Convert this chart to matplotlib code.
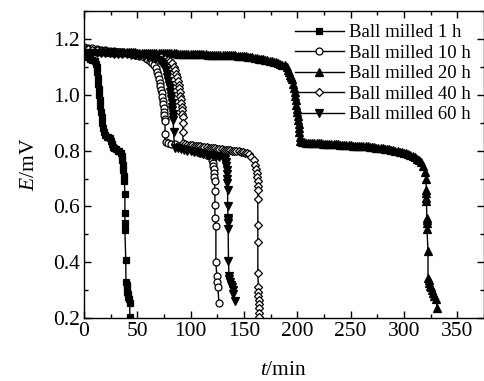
import matplotlib
matplotlib.use('Agg')
import matplotlib.pyplot as plt
from matplotlib.ticker import MultipleLocator

plt.rcParams['font.family'] = 'Liberation Serif'
plt.rcParams['mathtext.fontset'] = 'custom'
plt.rcParams['mathtext.rm'] = 'Liberation Serif'
plt.rcParams['mathtext.it'] = 'Liberation Serif:italic'

# ball milled 1 h
t1 = [0, 3, 6, 8, 10, 11, 12, 12.5, 13, 13.5,
      14, 14.5, 15, 15.5, 16, 16.5, 17, 17.5, 18.5, 20,
      21.5, 23, 24.5, 25.5, 26, 27, 28.5, 30, 31.5, 33,
      34.5, 35.5, 36, 36.5, 37, 37.5, 38, 38.4, 38.4, 38.4,
      38.4, 39.2, 39.4, 40, 40.3, 40.5, 41, 41.5, 42, 43,
      43]
e1 = [1.14, 1.135, 1.13, 1.125, 1.12, 1.11, 1.10, 1.08, 1.06, 1.04,
      1.02, 1.00, 0.98, 0.96, 0.94, 0.92, 0.90, 0.88, 0.865, 0.855,
      0.85, 0.85, 0.845, 0.835, 0.822, 0.812, 0.808, 0.805, 0.80, 0.797,
      0.79, 0.78, 0.765, 0.75, 0.73, 0.71, 0.69, 0.643, 0.578, 0.542,
      0.517, 0.41, 0.33, 0.32, 0.31, 0.295, 0.285, 0.276, 0.27, 0.254,
      0.204]

# ball milled 10 h
t10 = [0, 4, 8, 12, 16, 20, 24, 28, 32, 36,
       40, 44, 48, 52, 56, 59, 62, 64, 66, 67.5,
       68.5, 69.5, 70.3, 71, 71.7, 72.3, 72.9, 73.4, 73.9, 74.3,
       74.7, 75.1, 75.4, 75.7, 76, 76, 76.5, 79, 82, 85,
       88, 91, 94, 97, 100, 103, 106, 109, 112, 115,
       118, 120, 120.5, 121, 121.3, 121.6, 122, 122.3, 122.5, 122.8,
       122.8, 122.8, 123.7, 123.7, 124.6, 124.6, 125.6, 126.5]
e10 = [1.17, 1.168, 1.166, 1.164, 1.162, 1.16, 1.158, 1.156, 1.154, 1.152,
       1.15, 1.147, 1.144, 1.14, 1.135, 1.128, 1.12, 1.115, 1.107, 1.095,
       1.083, 1.07, 1.057, 1.044, 1.031, 1.018, 1.005, 0.992, 0.979, 0.966,
       0.953, 0.94, 0.927, 0.915, 0.906, 0.86, 0.83, 0.828, 0.825, 0.822,
       0.818, 0.815, 0.812, 0.808, 0.805, 0.80, 0.797, 0.793, 0.79, 0.786,
       0.782, 0.775, 0.765, 0.755, 0.745, 0.735, 0.72, 0.704, 0.69, 0.654,
       0.607, 0.56, 0.53, 0.40, 0.35, 0.33, 0.31, 0.255]

# ball milled 20 h
t20 = [0, 2, 4, 6, 8, 10, 12, 14, 16, 18,
       20, 22, 24, 26, 28, 30, 32, 34, 36, 38,
       40, 42, 44, 46, 48, 50, 52, 54, 56, 58,
       60, 62, 64, 66, 68, 70, 72, 74, 76, 78,
       80, 82, 84, 86, 88, 90, 92, 94, 96, 98,
       100, 102, 104, 106, 108, 110, 112, 114, 116, 118,
       120, 122, 124, 126, 128, 130, 132, 134, 136, 138,
       140, 142, 144, 146, 148, 150, 152, 154, 156, 158,
       160, 162, 164, 166, 168, 170, 172, 174, 176, 178,
       180, 182, 184, 186, 188,
       190, 191.5, 192.5, 193.5, 194.3, 195, 196, 196.8, 197.5, 198,
       198.5, 199, 199.5, 200, 200.5, 200.9, 201.2, 201.5, 201.8, 202.1,
       202.4,
       204, 206, 208, 210, 212, 214, 216, 218, 220, 222,
       224, 226, 228, 230, 232, 234, 236, 238, 240, 242,
       244, 246, 248, 250, 252, 254, 256, 258, 260, 262,
       264, 266, 268, 270, 272, 274, 276, 278, 280, 282,
       284, 286, 288, 290, 292, 294, 296, 298, 300, 302,
       304, 306, 308, 310, 312, 314, 316,
       318, 319.5, 320.5, 321, 321, 321, 321, 321.5, 321.5, 321.5,
       321.5, 322.5, 322.5, 323, 323.5, 324.5, 325.5, 326.5, 327.5, 328.5,
       330, 331]
e20 = [1.16, 1.16, 1.16, 1.159, 1.158, 1.158, 1.158, 1.157, 1.157, 1.156,
       1.156, 1.156, 1.155, 1.155, 1.155, 1.154, 1.154, 1.154, 1.153, 1.153,
       1.153, 1.152, 1.152, 1.152, 1.152, 1.151, 1.151, 1.151, 1.15, 1.15,
       1.15, 1.15, 1.15, 1.15, 1.15, 1.15, 1.149, 1.149, 1.149, 1.149,
       1.148, 1.148, 1.148, 1.148, 1.147, 1.147, 1.147, 1.147, 1.146, 1.146,
       1.146, 1.146, 1.145, 1.145, 1.145, 1.145, 1.145, 1.145, 1.144, 1.144,
       1.144, 1.144, 1.143, 1.143, 1.143, 1.143, 1.142, 1.142, 1.142, 1.142,
       1.141, 1.141, 1.14, 1.14, 1.139, 1.139, 1.138, 1.137, 1.136, 1.135,
       1.133, 1.132, 1.13, 1.129, 1.127, 1.126, 1.124, 1.122, 1.12, 1.118,
       1.116, 1.113, 1.11, 1.108, 1.105,
       1.10, 1.09, 1.08, 1.07, 1.063, 1.058, 1.04, 1.025, 1.01, 0.996,
       0.98, 0.965, 0.95, 0.937, 0.924, 0.91, 0.895, 0.88, 0.865, 0.85,
       0.835,
       0.83, 0.83, 0.829, 0.829, 0.828, 0.828, 0.827, 0.827, 0.826, 0.826,
       0.825, 0.825, 0.824, 0.824, 0.823, 0.823, 0.822, 0.822, 0.821, 0.821,
       0.82, 0.82, 0.819, 0.819, 0.818, 0.818, 0.817, 0.817, 0.816, 0.816,
       0.815, 0.815, 0.814, 0.813, 0.812, 0.811, 0.81, 0.809, 0.808, 0.807,
       0.806, 0.805, 0.803, 0.802, 0.80, 0.798, 0.796, 0.794, 0.792, 0.79,
       0.787, 0.784, 0.78, 0.776, 0.771, 0.765, 0.758,
       0.745, 0.725, 0.70, 0.66, 0.65, 0.63, 0.62, 0.56, 0.55, 0.54,
       0.52, 0.44, 0.345, 0.335, 0.325, 0.315, 0.31, 0.30, 0.29, 0.28,
       0.27, 0.236]

# ball milled 40 h
t40 = [0, 4, 8, 12, 16, 20, 24, 28, 32, 36,
       40, 44, 48, 52, 56, 60, 64, 68, 72, 76,
       79, 81, 83, 84.5, 85.5, 86.5, 87.3, 88, 88.7, 89.3,
       89.9, 90.4, 90.9, 91.3, 91.7, 92, 92.3, 92.5, 92.7, 92.8,
       92.9,
       95, 97, 99, 101, 103, 105, 107, 109, 111, 113,
       115, 117, 119, 121, 123, 125, 127, 129, 131, 133,
       135, 137, 139, 141, 143, 145, 147, 149, 151, 153,
       155, 157,
       159, 160.3, 161.3, 162, 162.5, 163, 163, 163, 163, 163,
       163, 163, 163.5, 163.5, 163.5, 163.8, 164, 164, 164, 164]
e40 = [1.165, 1.164, 1.162, 1.16, 1.158, 1.157, 1.155, 1.154, 1.152, 1.151,
       1.15, 1.148, 1.147, 1.145, 1.143, 1.142, 1.14, 1.137, 1.135, 1.13,
       1.125, 1.12, 1.113, 1.10, 1.088, 1.075, 1.062, 1.049, 1.036, 1.023,
       1.01, 0.997, 0.984, 0.971, 0.958, 0.945, 0.932, 0.92, 0.90, 0.867,
       0.827,
       0.822, 0.821, 0.82, 0.819, 0.818, 0.817, 0.816, 0.815, 0.814, 0.813,
       0.812, 0.811, 0.81, 0.809, 0.808, 0.807, 0.806, 0.805, 0.804, 0.803,
       0.802, 0.801, 0.80, 0.799, 0.798, 0.797, 0.796, 0.795, 0.793, 0.791,
       0.787, 0.778,
       0.765, 0.75, 0.735, 0.72, 0.705, 0.69, 0.675, 0.66, 0.625, 0.535,
       0.474, 0.36, 0.31, 0.295, 0.28, 0.265, 0.25, 0.235, 0.22, 0.205]

# ball milled 60 h
t60 = [0, 4, 8, 12, 16, 20, 24, 28, 32, 36,
       40, 44, 48, 52, 56, 60, 64, 67, 70, 72,
       74, 75.5, 76.5, 77.5, 78.3, 79, 79.7, 80.3, 80.9, 81.4,
       81.9, 82.3, 82.7, 83, 83.3, 83.5, 83.7, 84, 85, 88,
       91, 94, 97, 100, 103, 106, 109, 112, 115, 118,
       121, 124, 127, 130, 132, 133, 133.5, 134, 134.2, 134.4,
       134.5, 134.6, 134.8, 135, 135, 135, 135.2, 135.5, 136, 136.3,
       136.8, 137.5, 138.5, 139.5, 140, 141.5]
e60 = [1.15, 1.15, 1.15, 1.149, 1.149, 1.148, 1.148, 1.147, 1.146, 1.146,
       1.145, 1.144, 1.143, 1.142, 1.14, 1.137, 1.133, 1.128, 1.123, 1.118,
       1.112, 1.10, 1.088, 1.075, 1.062, 1.049, 1.036, 1.023, 1.01, 0.997,
       0.984, 0.971, 0.958, 0.945, 0.932, 0.92, 0.908, 0.867, 0.81, 0.808,
       0.806, 0.804, 0.80, 0.798, 0.796, 0.794, 0.79, 0.788, 0.786, 0.784,
       0.782, 0.78, 0.778, 0.775, 0.77, 0.76, 0.745, 0.73, 0.715, 0.70,
       0.685, 0.66, 0.60, 0.56, 0.55, 0.54, 0.52, 0.405, 0.35, 0.34,
       0.33, 0.32, 0.31, 0.30, 0.285, 0.26]

labels = ['Ball milled 1 h', 'Ball milled 10 h', 'Ball milled 20 h',
          'Ball milled 40 h', 'Ball milled 60 h']

fig = plt.figure(figsize=(4.85, 3.81), dpi=100)
ax = fig.add_axes([0.173, 0.165, 0.825, 0.806])

common = dict(color='black', lw=1.0, mec='black', mew=0.9)
ax.plot(t1, e1, marker='s', ms=5, mfc='black', label=labels[0], **common)
ax.plot(t10, e10, marker='o', ms=5, mfc='white', label=labels[1], **common)
ax.plot(t20, e20, marker='^', ms=6, mfc='black', label=labels[2], **common)
ax.plot(t40, e40, marker='D', ms=4.5, mfc='white', label=labels[3], **common)
ax.plot(t60, e60, marker='v', ms=6, mfc='black', label=labels[4], **common)

ax.set_xlim(0, 375)
ax.set_ylim(0.2, 1.3)
ax.xaxis.set_major_locator(MultipleLocator(50))
ax.xaxis.set_minor_locator(MultipleLocator(25))
ax.yaxis.set_minor_locator(MultipleLocator(0.1))
ax.set_yticks([0.2, 0.4, 0.6, 0.8, 1.0, 1.2])
ax.set_yticklabels(['0.2', '0.4', '0.6', '0.8', '1.0', '1.2'])
ax.tick_params(which='both', direction='in', top=True, right=True,
               labelsize=15.5, width=1, pad=3)
ax.tick_params(which='major', length=5)
ax.tick_params(which='minor', length=3)
for s in ax.spines.values():
    s.set_linewidth(1)

ax.set_xlabel('$t$/min', fontsize=15.5, labelpad=14)
ax.set_ylabel('$E$/mV', fontsize=15.5, labelpad=10)

ax.legend(loc='upper right', frameon=False, fontsize=13.5, handlelength=2.6,
          handletextpad=0.3, labelspacing=0.18, borderpad=0.2,
          borderaxespad=0.5, numpoints=1)

fig.savefig('out.png', dpi=100)
